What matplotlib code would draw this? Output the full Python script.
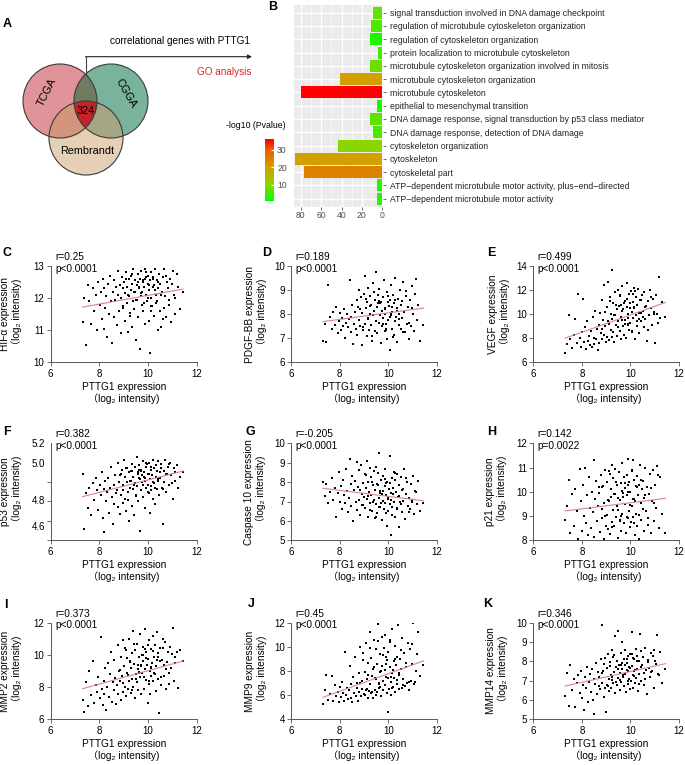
import numpy as np
import matplotlib
matplotlib.use('Agg')
import matplotlib.pyplot as plt
from matplotlib.patches import Circle, Polygon
from matplotlib.colors import LinearSegmentedColormap, Normalize
from matplotlib.cm import ScalarMappable

plt.rcParams['font.family'] = ['Liberation Sans', 'DejaVu Sans', 'Noto Sans CJK SC']

# ---------------- data ----------------
venn_sets = ['TCGA', 'CGGA', 'Rembrandt']
venn_common = '324'

go_terms = [
    'signal transduction involved in DNA damage checkpoint',
    'regulation of microtubule cytoskeleton organization',
    'regulation of cytoskeleton organization',
    'protein localization to microtubule cytoskeleton',
    'microtubule cytoskeleton organization involved in mitosis',
    'microtubule cytoskeleton organization',
    'microtubule cytoskeleton',
    'epithelial to mesenchymal transition',
    'DNA damage response, signal transduction by p53 class mediator',
    'DNA damage response, detection of DNA damage',
    'cytoskeleton organization',
    'cytoskeleton',
    'cytoskeletal part',
    'ATP\u2212dependent microtubule motor activity, plus\u2212end\u2212directed',
    'ATP\u2212dependent microtubule motor activity',
]
go_count = [9, 11, 12, 4, 12, 41, 80, 5, 12, 9, 43, 86, 77, 5, 5]
go_logp = [7, 6, 3, 5, 8, 20, 36, 3, 7, 6, 10, 20, 25, 4, 4]

pttg1 = [
    7.31, 7.38, 7.45, 7.52, 7.58, 7.66, 7.73, 7.79, 7.85, 7.91,
    7.96, 8.01, 8.05, 8.09, 8.13, 8.17, 8.21, 8.25, 8.29, 8.33,
    8.37, 8.41, 8.45, 8.48, 8.52, 8.55, 8.59, 8.62, 8.66, 8.69,
    8.72, 8.75, 8.78, 8.81, 8.84, 8.87, 8.90, 8.93, 8.96, 8.99,
    9.02, 9.04, 9.07, 9.10, 9.12, 9.15, 9.18, 9.20, 9.23, 9.25,
    9.28, 9.30, 9.33, 9.35, 9.38, 9.40, 9.43, 9.45, 9.48, 9.50,
    9.53, 9.55, 9.58, 9.60, 9.62, 9.65, 9.67, 9.70, 9.72, 9.74,
    9.77, 9.79, 9.81, 9.84, 9.86, 9.88, 9.91, 9.93, 9.95, 9.98,
    10.00, 10.02, 10.05, 10.07, 10.09, 10.12, 10.14, 10.16, 10.19, 10.21,
    10.24, 10.26, 10.29, 10.31, 10.34, 10.36, 10.39, 10.42, 10.45, 10.48,
    10.51, 10.54, 10.57, 10.60, 10.64, 10.67, 10.71, 10.75, 10.79, 10.83,
    10.87, 10.91, 10.96, 11.01, 11.06, 11.11, 11.17, 11.23, 11.31, 11.44,
    8.83, 8.97, 9.08, 9.16, 9.26, 9.34, 9.42, 9.49, 9.57, 9.64,
    9.71, 9.78, 9.85, 9.92, 9.99, 10.06, 10.13, 10.20, 10.27, 10.35,
    10.43, 10.52, 10.62, 10.73, 10.85, 10.99, 11.12, 9.61, 9.89, 10.11,
]

hif = [
    11.25, 12.0, 10.55, 12.4, 11.9, 11.2, 12.3, 11.6, 12.1, 11.0,
    12.5, 11.8, 12.2, 11.35, 12.6, 11.05, 12.3, 11.7, 12.05, 10.8,
    12.45, 11.5, 12.7, 11.9, 10.6, 12.2, 11.4, 12.55, 11.95, 12.35,
    11.15, 12.85, 12.1, 11.6, 12.4, 10.9, 12.0, 12.65, 11.75, 12.3,
    12.5, 11.3, 12.15, 12.8, 11.85, 12.35, 10.95, 12.6, 12.05, 11.55,
    12.25, 12.7, 11.1, 12.45, 11.9, 12.9, 11.65, 12.2, 12.55, 10.7,
    12.4, 11.95, 12.75, 11.4, 12.3, 12.6, 10.4, 12.05, 12.85, 11.8,
    12.2, 12.5, 11.6, 12.35, 12.9, 11.2, 12.65, 12.1, 11.9, 12.45,
    12.7, 11.3, 12.25, 12.55, 10.3, 12.0, 12.8, 11.75, 12.35, 12.6,
    11.45, 12.4, 12.9, 12.1, 11.85, 12.55, 11.0, 12.3, 12.75, 11.6,
    12.45, 11.1, 12.2, 12.65, 11.7, 12.9, 12.05, 11.4, 12.5, 12.3,
    11.8, 12.6, 11.25, 12.85, 12.1, 11.5, 12.75, 12.35, 11.65, 12.2,
    12.4, 11.7, 12.6, 12.1, 11.45, 12.75, 12.2, 11.95, 12.5, 12.3,
    12.15, 12.55, 11.85, 12.8, 12.0, 12.4, 11.6, 12.65, 12.25, 11.9,
    12.5, 12.1, 11.35, 12.7, 11.95, 12.45, 12.0, 12.35, 12.6, 11.75,
]
pdgf = [
    6.9, 7.6, 6.85, 9.2, 7.9, 7.4, 8.1, 7.55, 8.3, 7.2,
    7.7, 8.05, 7.35, 7.85, 7.5, 8.2, 7.0, 7.65, 8.0, 7.45,
    7.8, 9.4, 7.25, 7.9, 8.4, 6.75, 7.6, 8.1, 7.4, 8.6,
    7.15, 8.3, 7.75, 9.0, 7.5, 8.7, 6.7, 8.05, 7.35, 8.85,
    9.6, 7.6, 8.25, 7.1, 8.5, 7.8, 9.1, 7.35, 8.0, 8.75,
    7.55, 8.4, 6.9, 9.3, 7.95, 8.15, 7.3, 8.6, 7.7, 9.75,
    8.3, 7.2, 8.8, 7.65, 9.05, 7.95, 8.45, 6.8, 8.15, 7.5,
    8.7, 7.85, 9.4, 7.3, 8.25, 8.0, 7.6, 8.9, 6.95, 8.5,
    7.75, 8.35, 6.5, 8.6, 7.95, 9.2, 7.4, 8.1, 8.8, 7.15,
    8.45, 7.7, 9.5, 7.9, 8.25, 6.85, 8.65, 7.55, 8.0, 9.0,
    7.4, 8.55, 7.85, 9.35, 8.1, 7.25, 8.75, 7.6, 8.3, 6.95,
    8.6, 7.5, 9.15, 8.0, 7.3, 8.85, 7.75, 8.4, 6.9, 7.55,
    8.2, 7.45, 8.65, 7.85, 8.35, 7.1, 8.9, 7.7, 8.45, 7.95,
    8.5, 7.6, 8.2, 7.35, 8.75, 7.9, 8.3, 7.05, 8.6, 8.15,
    7.8, 8.4, 7.25, 8.95, 7.65, 8.25, 9.45, 8.55, 7.4, 8.05,
]
vegf = [
    6.8, 7.5, 9.9, 7.9, 7.2, 8.3, 9.6, 7.6, 11.7, 8.0,
    7.3, 8.5, 11.3, 7.7, 8.9, 7.1, 9.4, 7.8, 8.2, 7.45,
    8.6, 7.25, 9.8, 8.0, 7.55, 10.3, 7.9, 8.8, 7.0, 9.1,
    7.6, 10.1, 8.4, 11.2, 7.9, 9.5, 8.25, 12.4, 9.0, 7.7,
    10.6, 8.1, 12.7, 9.2, 7.85, 11.4, 8.7, 10.0, 9.6, 13.7,
    8.5, 10.9, 7.7, 9.9, 11.8, 9.1, 10.4, 8.2, 12.0, 9.4,
    10.7, 8.6, 11.5, 9.8, 7.9, 10.3, 12.3, 9.0, 10.9, 8.3,
    11.1, 9.5, 8.0, 10.6, 12.6, 9.2, 10.0, 11.7, 8.7, 10.5,
    9.3, 11.9, 10.2, 8.5, 11.0, 9.7, 12.2, 10.6, 7.9, 9.9,
    11.4, 9.0, 10.8, 12.1, 9.6, 8.4, 11.2, 10.1, 9.4, 11.6,
    10.3, 8.9, 11.8, 9.6, 10.7, 7.8, 11.1, 9.9, 12.0, 10.5,
    9.1, 11.3, 10.2, 7.6, 11.6, 10.0, 13.1, 9.7, 11.0, 9.8,
    8.8, 10.2, 9.4, 11.1, 8.1, 9.9, 10.8, 8.9, 11.6, 9.5,
    10.4, 9.2, 11.3, 9.7, 10.9, 8.6, 10.5, 11.9, 9.4, 10.1,
    11.2, 9.8, 10.6, 8.7, 11.4, 10.0, 9.3, 10.8, 9.1, 11.7,
]
p53 = [
    4.98, 4.58, 4.84, 4.73, 4.88, 4.68, 4.91, 4.79, 4.95, 4.86,
    4.72, 4.90, 4.83, 4.99, 4.66, 4.87, 4.56, 4.93, 4.78, 4.85,
    4.95, 4.70, 4.88, 5.03, 4.81, 4.62, 4.90, 4.76, 4.97, 4.84,
    4.86, 5.06, 4.74, 4.92, 4.69, 4.98, 4.83, 5.01, 4.77, 4.90,
    5.08, 4.80, 4.96, 4.71, 4.92, 5.02, 4.85, 4.64, 4.99, 4.88,
    4.93, 5.00, 4.75, 5.05, 4.87, 4.96, 4.68, 5.03, 4.91, 4.82,
    5.10, 4.89, 4.98, 4.78, 5.04, 4.94, 4.57, 5.00, 4.86, 4.97,
    4.92, 5.07, 4.81, 4.99, 4.95, 4.73, 5.03, 4.88, 5.05, 4.90,
    4.98, 4.84, 5.06, 4.94, 4.70, 5.01, 4.89, 4.97, 5.08, 4.80,
    5.02, 4.91, 4.76, 5.04, 4.96, 4.87, 5.07, 4.93, 4.83, 4.99,
    4.95, 5.05, 4.88, 4.62, 5.00, 4.92, 5.08, 4.85, 4.98, 5.03,
    4.90, 5.06, 4.97, 4.80, 5.02, 4.93, 5.04, 4.88, 4.96, 4.99,
    4.97, 4.86, 5.02, 4.79, 4.93, 5.00, 4.90, 4.83, 4.99, 4.95,
    5.01, 4.90, 4.96, 5.06, 4.85, 4.98, 5.03, 4.92, 4.88, 5.00,
    4.94, 5.02, 4.87, 4.98, 5.05, 4.91, 4.99, 5.01, 4.93, 4.86,
]
casp10 = [
    8.0, 7.3, 7.9, 6.9, 7.5, 8.2, 7.1, 7.7, 6.2, 7.45,
    8.5, 7.0, 7.8, 6.6, 8.1, 7.35, 6.9, 8.7, 7.55, 6.45,
    7.2, 9.2, 6.75, 7.9, 8.3, 6.0, 7.6, 8.05, 7.0, 9.05,
    6.55, 7.75, 8.6, 7.1, 6.3, 8.9, 7.4, 6.8, 7.95, 7.25,
    8.4, 6.65, 7.7, 9.1, 7.15, 6.2, 8.0, 7.5, 6.9, 8.75,
    7.35, 8.25, 6.5, 7.85, 7.0, 8.55, 6.15, 7.6, 8.8, 6.85,
    7.9, 6.4, 8.45, 7.2, 9.5, 6.7, 7.55, 8.1, 6.05, 7.4,
    8.3, 7.05, 6.6, 7.8, 8.65, 6.9, 7.35, 5.75, 8.0, 7.15,
    6.5, 7.65, 9.35, 6.85, 5.25, 7.45, 8.2, 6.3, 7.7, 8.5,
    7.0, 6.2, 8.1, 7.5, 6.65, 8.4, 7.25, 5.7, 7.85, 6.95,
    8.25, 6.45, 7.6, 7.05, 8.65, 6.1, 7.4, 8.0, 6.75, 7.2,
    6.6, 7.9, 7.1, 8.3, 6.35, 7.55, 6.85, 8.05, 6.5, 6.9,
    7.6, 6.8, 8.35, 7.3, 6.55, 8.0, 7.1, 6.2, 7.85, 7.45,
    6.9, 7.55, 8.15, 6.4, 7.2, 7.95, 6.7, 7.4, 8.45, 6.6,
    7.3, 6.85, 7.65, 8.2, 6.45, 7.0, 7.5, 6.7, 7.95, 7.1,
]
p21 = [
    8.85, 9.4, 10.5, 8.3, 9.9, 8.6, 10.1, 9.2, 8.05, 10.95,
    9.6, 8.4, 10.3, 9.0, 11.0, 8.7, 9.85, 8.2, 10.6, 9.35,
    8.5, 10.0, 9.15, 11.3, 8.15, 9.7, 10.45, 8.8, 9.4, 10.2,
    9.95, 8.35, 10.7, 9.3, 8.9, 10.25, 8.05, 9.55, 10.9, 8.6,
    10.4, 9.05, 8.45, 10.85, 9.6, 8.25, 10.1, 9.8, 8.75, 11.1,
    9.25, 10.55, 8.6, 9.9, 10.95, 8.95, 9.4, 10.3, 8.1, 9.75,
    10.8, 8.85, 9.65, 10.35, 8.4, 11.2, 9.1, 9.95, 10.6, 8.7,
    9.5, 10.15, 8.3, 10.7, 9.85, 8.9, 11.35, 9.2, 10.4, 8.55,
    10.0, 8.75, 10.9, 9.4, 11.3, 8.95, 9.7, 10.5, 8.2, 10.25,
    9.1, 10.65, 8.6, 9.85, 10.3, 8.05, 11.1, 9.55, 8.85, 10.1,
    10.45, 8.4, 9.75, 11.0, 9.2, 10.2, 8.65, 9.9, 10.75, 8.3,
    9.6, 10.9, 8.8, 10.3, 9.35, 11.05, 8.5, 10.6, 9.1, 8.3,
    10.2, 9.0, 9.65, 10.75, 8.55, 9.9, 10.4, 9.25, 8.8, 10.05,
    9.8, 10.35, 8.95, 10.0, 9.45, 10.85, 8.7, 9.6, 10.2, 9.05,
    10.5, 9.3, 9.85, 8.9, 10.15, 9.55, 10.7, 9.0, 10.3, 9.7,
]
mmp2 = [
    7.2, 6.45, 8.3, 6.8, 9.0, 7.5, 9.6, 7.0, 8.1, 7.7,
    8.6, 7.3, 11.1, 7.9, 6.9, 8.4, 7.6, 9.2, 6.6, 8.0,
    9.5, 7.4, 8.8, 10.2, 7.1, 8.3, 9.7, 7.8, 8.55, 6.95,
    8.1, 10.6, 7.6, 9.0, 8.4, 7.2, 9.9, 8.7, 10.9, 7.7,
    9.3, 8.0, 10.4, 7.45, 8.9, 9.8, 7.9, 11.0, 8.35, 9.55,
    7.65, 9.2, 10.1, 8.5, 11.5, 8.0, 9.45, 7.3, 10.3, 8.8,
    10.7, 8.3, 9.1, 7.8, 9.85, 8.6, 11.3, 9.3, 7.55, 10.0,
    8.9, 9.6, 10.5, 7.9, 9.15, 11.6, 8.45, 10.2, 9.4, 7.0,
    9.75, 8.2, 10.9, 9.0, 7.6, 10.35, 8.7, 9.5, 11.2, 8.4,
    9.9, 8.85, 10.6, 7.75, 9.3, 11.4, 8.5, 10.1, 6.4, 9.65,
    10.4, 8.1, 9.7, 11.0, 8.7, 9.35, 10.8, 7.9, 9.55, 10.15,
    8.9, 10.5, 9.2, 11.65, 8.35, 9.9, 10.2, 7.95, 10.3, 9.6,
    9.05, 8.25, 10.3, 8.75, 9.6, 7.85, 10.7, 8.5, 9.35, 8.95,
    9.4, 10.0, 8.65, 9.8, 10.6, 8.35, 9.2, 10.25, 8.8, 9.7,
    9.85, 8.6, 10.45, 9.15, 8.2, 10.05, 9.5, 8.9, 10.35, 9.25,
]
mmp9 = [
    5.3, 6.4, 7.7, 5.6, 6.1, 7.6, 5.5, 6.8, 5.9, 6.3,
    5.4, 6.7, 5.85, 7.1, 6.2, 5.5, 9.6, 6.0, 6.6, 5.7,
    6.4, 8.4, 5.8, 6.9, 5.45, 7.5, 6.15, 9.2, 5.95, 7.0,
    6.6, 5.55, 7.8, 6.3, 10.0, 5.9, 7.2, 6.5, 9.5, 6.1,
    7.9, 6.0, 10.3, 6.55, 7.3, 5.75, 8.7, 6.35, 11.2, 6.9,
    6.2, 9.1, 7.6, 5.8, 8.2, 10.6, 6.45, 7.45, 6.05, 9.8,
    8.6, 6.3, 11.9, 7.0, 6.6, 9.4, 7.9, 5.95, 8.4, 10.8,
    7.2, 6.4, 9.9, 8.1, 6.8, 11.0, 7.5, 6.2, 8.9, 4.6,
    9.6, 6.5, 8.3, 10.4, 7.1, 6.05, 11.5, 7.8, 6.7, 8.8,
    7.4, 10.1, 6.3, 8.5, 9.2, 6.9, 11.8, 7.65, 6.5, 9.0,
    8.2, 6.6, 10.7, 7.3, 9.5, 6.75, 8.7, 7.0, 10.3, 6.45,
    9.8, 7.2, 8.6, 12.0, 6.9, 7.1, 9.4, 11.2, 7.6, 8.5,
    7.0, 8.9, 6.4, 7.7, 9.9, 6.25, 8.3, 7.35, 10.5, 6.7,
    8.0, 9.3, 6.85, 8.6, 7.4, 10.6, 6.6, 8.1, 9.0, 7.25,
    7.8, 9.7, 6.8, 8.35, 7.1, 10.2, 8.0, 6.95, 9.15, 7.5,
]
mmp14 = [
    6.2, 7.4, 5.7, 7.8, 6.5, 7.1, 5.65, 6.9, 7.3, 6.35,
    7.5, 6.1, 6.8, 5.5, 7.2, 6.6, 7.7, 5.9, 6.95, 7.35,
    6.4, 7.6, 6.0, 7.1, 5.3, 6.85, 7.9, 6.3, 7.45, 6.7,
    7.2, 6.55, 8.1, 9.9, 6.9, 7.5, 6.15, 7.85, 6.6, 5.4,
    7.65, 6.8, 8.4, 7.1, 6.45, 7.95, 7.3, 6.6, 8.6, 7.05,
    6.9, 8.2, 7.45, 6.35, 9.3, 7.7, 6.75, 8.0, 7.15, 9.55,
    7.8, 6.5, 7.4, 8.45, 6.95, 7.6, 9.0, 7.2, 6.7, 8.1,
    7.35, 8.6, 6.4, 7.9, 7.55, 6.85, 8.3, 7.1, 7.7, 6.55,
    8.4, 7.0, 7.75, 9.5, 7.3, 6.6, 8.1, 7.5, 6.9, 8.65,
    7.15, 8.3, 7.6, 6.45, 8.0, 7.35, 9.4, 7.0, 8.55, 7.8,
    8.2, 7.4, 6.8, 8.7, 7.55, 6.3, 8.05, 7.65, 7.2, 8.45,
    7.5, 8.3, 6.6, 8.0, 7.85, 9.35, 7.3, 8.5, 6.9, 7.6,
    7.4, 8.15, 6.7, 7.75, 7.2, 8.35, 6.95, 7.6, 7.05, 7.9,
    7.3, 7.8, 8.1, 7.0, 7.65, 8.4, 7.25, 7.55, 8.0, 6.85,
    7.7, 8.25, 7.1, 7.95, 7.45, 8.6, 7.35, 7.8, 7.5, 8.15,
]

# fitted regression line, y at min / max PTTG1
fit_hif = [11.72, 12.28]
fit_pdgf = [7.69, 8.25]
fit_vegf = [8.0, 10.97]
fit_p53 = [4.815, 5.0]
fit_casp10 = [7.68, 7.04]
fit_p21 = [9.21, 9.73]
fit_mmp2 = [7.9, 9.62]
fit_mmp9 = [5.82, 8.83]
fit_mmp14 = [6.72, 7.88]

r_values = ['r=0.25', 'r=0.189', 'r=0.499', 'r=0.382', 'r=-0.205',
            'r=0.142', 'r=0.373', 'r=0.45', 'r=0.346']
p_values = ['p<0.0001', 'p<0.0001', 'p<0.0001', 'p<0.0001', 'p<0.0001',
            'p=0.0022', 'p<0.0001', 'p<0.0001', 'p<0.0001']
genes = ['HIF\u03b1', 'PDGF-BB', 'VEGF', 'p53', 'Caspase 10', 'p21',
         'MMP2', 'MMP9', 'MMP14']

# ---------------- figure ----------------
W, H = 685, 765
fig = plt.figure(figsize=(W / 100, H / 100), dpi=100)


def px_axes(l, t, r, b):
    return fig.add_axes([l / W, 1 - b / H, (r - l) / W, (b - t) / H])


ov = fig.add_axes([0, 0, 1, 1])
ov.set_xlim(0, W)
ov.set_ylim(H, 0)
ov.axis('off')

# ---- panel A: Venn ----
centers = [(60, 101), (111, 101), (86, 138)]
rad = 37
base_cols = ['#e0949a', '#7ab39c', '#e5d0b6']
pair_cols = {(0, 1): '#6f7c62', (0, 2): '#d3957b', (1, 2): '#a5a684'}
triple_col = '#c62229'


def inter_poly(idx):
    pts = []
    th = np.linspace(0, 2 * np.pi, 1440, endpoint=False)
    for i in idx:
        cx, cy = centers[i]
        p = np.column_stack([cx + rad * np.cos(th), cy + rad * np.sin(th)])
        ok = np.ones(len(p), bool)
        for j in idx:
            if j == i:
                continue
            ok &= np.hypot(p[:, 0] - centers[j][0], p[:, 1] - centers[j][1]) <= rad + 1e-6
        pts.append(p[ok])
    pts = np.vstack(pts)
    c = pts.mean(axis=0)
    order = np.argsort(np.arctan2(pts[:, 1] - c[1], pts[:, 0] - c[0]))
    return pts[order]


for (cx, cy), col in zip(centers, base_cols):
    ov.add_patch(Circle((cx, cy), rad, facecolor=col, edgecolor='none'))
for key, col in pair_cols.items():
    ov.add_patch(Polygon(inter_poly(key), closed=True, facecolor=col, edgecolor='none'))
ov.add_patch(Polygon(inter_poly((0, 1, 2)), closed=True, facecolor=triple_col, edgecolor='none'))
for (cx, cy) in centers:
    ov.add_patch(Circle((cx, cy), rad, fill=False, edgecolor='#3a3a3a', lw=0.8))

ov.text(47, 92, venn_sets[0], rotation=63, ha='center', va='center', fontsize=7.8)
ov.text(126, 93, venn_sets[1], rotation=-60, ha='center', va='center', fontsize=7.8)
ov.text(87, 150.5, venn_sets[2], ha='center', va='center', fontsize=7.8)
ov.text(86, 111, venn_common, ha='center', va='center', fontsize=7.8)

ov.plot([86, 86], [75, 56.7], color='#444444', lw=0.8)
ov.annotate('', xy=(252, 56.7), xytext=(85.6, 56.7),
            arrowprops=dict(arrowstyle='-|>', color='#222222', lw=0.8,
                            mutation_scale=6, shrinkA=0, shrinkB=0))
ov.text(250, 40.5, 'correlational genes with PTTG1', ha='right', va='center', fontsize=7.2)
ov.text(251, 71.5, 'GO analysis', ha='right', va='center', fontsize=7.2, color='#d9262c')

ov.text(3, 24, 'A', fontsize=9, fontweight='bold', ha='left', va='center')
ov.text(268, 6.5, 'B', fontsize=9, fontweight='bold', ha='left', va='center')

# ---- panel B: GO bars ----
cmap = LinearSegmentedColormap.from_list(
    'go', [(0, '#00ff00'), (0.257, '#8cd600'), (0.543, '#d2a000'),
           (0.829, '#e86000'), (1, '#ff0000')])
norm = Normalize(1, 36)

bx = px_axes(294.3, 4.7, 383.3, 206.7)
n = len(go_terms)
ypos = np.arange(n)[::-1]
bx.barh(ypos, go_count, height=0.9, color=cmap(norm(np.array(go_logp))), zorder=3)
bx.set_xlim(86.3, -1.0)
bx.set_ylim(-0.6, n - 0.4)
bx.set_facecolor('#ebebeb')
bx.set_axisbelow(True)
bx.set_xticks([0, 20, 40, 60, 80])
bx.set_xticks([10, 30, 50, 70], minor=True)
bx.grid(which='major', color='white', lw=0.9)
bx.grid(which='minor', axis='x', color='white', lw=0.45)
bx.yaxis.tick_right()
bx.set_yticks(ypos)
bx.set_yticklabels(go_terms, fontsize=6.2, color='#222222')
bx.tick_params(axis='both', which='major', length=2, width=0.5, color='#333333', pad=2.5)
bx.tick_params(axis='x', labelsize=6.2, labelcolor='#4d4d4d', pad=1)
bx.tick_params(which='minor', length=0)
for s in bx.spines.values():
    s.set_visible(False)

cax = px_axes(265, 139.3, 274.3, 200.7)
cb = fig.colorbar(ScalarMappable(norm=norm, cmap=cmap), cax=cax)
cb.set_ticks([10, 20, 30])
cb.outline.set_visible(False)
cax.tick_params(labelsize=6.2, length=2, color='white', direction='in',
                labelcolor='#4d4d4d', pad=2)
ov.text(286, 125, '-log10 (Pvalue)', ha='right', va='center', fontsize=6.3)

# ---- scatter panels ----
x = np.array(pttg1)
ys = [hif, pdgf, vegf, p53, casp10, p21, mmp2, mmp9, mmp14]
fits = [fit_hif, fit_pdgf, fit_vegf, fit_p53, fit_casp10, fit_p21, fit_mmp2, fit_mmp9, fit_mmp14]
ylims = [(10, 13), (6, 10), (6, 14), (4.5, 5.2), (5, 10), (8, 12), (6, 12), (4, 12), (5, 10)]
yticks = [[10, 11, 12, 13], [6, 7, 8, 9, 10], [6, 8, 10, 12, 14], None,
          [5, 6, 7, 8, 9, 10], [8, 9, 10, 11, 12], [6, 8, 10, 12], [4, 6, 8, 10, 12],
          [5, 6, 7, 8, 9, 10]]
letters = ['C', 'D', 'E', 'F', 'G', 'H', 'I', 'J', 'K']
letter_pos = [(3, 253), (262, 253), (487, 253), (3, 432), (246, 432), (487, 432),
              (4, 605), (248, 604), (483, 604)]
ylab_off = [-40, -35, -34, -40, -36, -37, -40, -35, -36]
cols = [(50.7, 196.7), (291.2, 437.0), (533.3, 679.0)]
rows = [(266.0, 362.3), (443.3, 540.3), (622.7, 719.3)]

for k in range(9):
    l, r = cols[k % 3]
    t, b = rows[k // 3]
    ax = px_axes(l, t, r, b)
    wpx, hpx = r - l, b - t
    y = np.array(ys[k])
    ax.scatter(x, y, s=1.3, c='black', marker='s', linewidths=0, zorder=3)
    ax.plot([x.min(), x.max()], fits[k], color='#d98585', lw=0.8, zorder=4)
    ax.set_xlim(6, 12)
    ax.set_ylim(*ylims[k])
    ax.set_xticks([6, 8, 10, 12])
    if yticks[k] is not None:
        ax.set_yticks(yticks[k])
    else:
        ax.set_yticks([5.2, 5.06, 4.79, 4.606])
        ax.set_yticklabels(['5.2', '5.0', '4.8', '4.6'])
        ax.set_yticks([5.2, 5.06, 4.92, 4.78, 4.64, 4.5], minor=True)
        ax.tick_params(axis='y', which='major', length=0, pad=4.2)
        ax.tick_params(axis='y', which='minor', length=3, width=0.6, color='#555555')
    for s in ['top', 'right']:
        ax.spines[s].set_visible(False)
    for s in ['left', 'bottom']:
        ax.spines[s].set_color('#555555')
        ax.spines[s].set_linewidth(0.7)
    if yticks[k] is not None:
        ax.tick_params(axis='both', length=3, width=0.6, color='#555555', labelsize=7, pad=1.5)
    else:
        ax.tick_params(axis='x', length=3, width=0.6, color='#555555', pad=1.5)
        ax.tick_params(axis='both', labelsize=7)
    ax.text(ylab_off[k] / wpx, 0.5, genes[k] + ' expression\n\uff08log\u2082 intensity)',
            transform=ax.transAxes, rotation=90, ha='center', va='center',
            fontsize=7.3, linespacing=1.15, multialignment='center')
    ax.text(0.5, -19.5 / hpx, 'PTTG1 expression\n\uff08log\u2082 intensity)',
            transform=ax.transAxes, ha='center', va='top', fontsize=7.3,
            linespacing=1.15, multialignment='center')
    ax.text(4.3 / wpx, 1 + 14 / hpx, r_values[k] + '\n' + p_values[k],
            transform=ax.transAxes, ha='left', va='top', fontsize=7.3, linespacing=1.2)
    lx, ly = letter_pos[k]
    ov.text(lx, ly, letters[k], fontsize=9, fontweight='bold', ha='left', va='center')

fig.savefig('out.png', dpi=100)
